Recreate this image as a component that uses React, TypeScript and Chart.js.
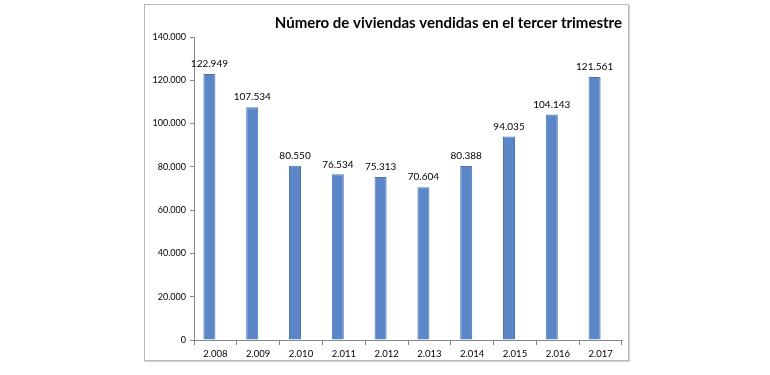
import React, { useEffect, useRef } from "react";
import { Chart, registerables } from "chart.js";

Chart.register(...registerables);

const categories = ["2.008", "2.009", "2.010", "2.011", "2.012", "2.013", "2.014", "2.015", "2.016", "2.017"];
const values = [122949, 107534, 80550, 76534, 75313, 70604, 80388, 94035, 104143, 121561];
const emptySeries = [null, null, null, null, null, null, null, null, null, null];
const yTicks = [0, 20000, 40000, 60000, 80000, 100000, 120000, 140000];
const titleText = "Número de viviendas vendidas en el tercer trimestre";

const FONT = "Lato, 'Liberation Sans', sans-serif";

const fmt = (v: number) => {
  const s = Math.round(v).toString();
  return s.replace(/\B(?=(\d{3})+(?!\d))/g, ".");
};

const labelPlugin = {
  id: "barLabels",
  afterDatasetsDraw(chart: any) {
    const ctx = chart.ctx;
    const meta = chart.getDatasetMeta(0);
    ctx.save();
    ctx.font = "10px " + FONT;
    ctx.fillStyle = "#000";
    ctx.textAlign = "center";
    ctx.textBaseline = "bottom";
    meta.data.forEach((bar: any, i: number) => {
      ctx.fillText(fmt(values[i]), bar.x, bar.y - 5);
    });
    ctx.restore();
  },
};

export default function App() {
  const ref = useRef<HTMLCanvasElement>(null);
  useEffect(() => {
    if (!ref.current) return;
    const chart = new Chart(ref.current, {
      type: "bar",
      data: {
        labels: categories,
        datasets: [
          {
            data: values,
            backgroundColor: "#5b87c8",
            borderColor: "#4a74b4",
            borderWidth: 1,
            categoryPercentage: 0.56,
            barPercentage: 1,
          },
          {
            data: emptySeries as any,
            backgroundColor: "transparent",
            categoryPercentage: 0.56,
            barPercentage: 1,
          },
        ],
      },
      options: {
        animation: false,
        responsive: false,
        maintainAspectRatio: false,
        layout: { padding: { left: 0, right: 6, top: 0, bottom: 0 } },
        plugins: {
          legend: { display: false },
          tooltip: { enabled: false },
          title: {
            display: true,
            text: titleText,
            align: "end",
            color: "#000",
            font: { family: FONT, size: 15, weight: "bold" },
            padding: { top: 9, bottom: 5 },
          },
        },
        scales: {
          x: {
            grid: { display: true, drawOnChartArea: false, drawTicks: true, tickLength: 5, color: "#888", offset: true },
            border: { display: true, color: "#888" },
            ticks: { color: "#000", font: { family: FONT, size: 9.5 }, padding: 3, maxRotation: 0 },
            afterFit: (s: any) => { s.height = 20; },
          },
          y: {
            min: 0,
            max: 140000,
            afterBuildTicks: (s: any) => { s.ticks = yTicks.map((v) => ({ value: v })); },
            grid: { display: true, drawOnChartArea: false, drawTicks: true, tickLength: 4, color: "#888" },
            border: { display: true, color: "#888" },
            ticks: { color: "#000", font: { family: FONT, size: 9 }, padding: 4, callback: (v: any) => fmt(Number(v)) },
            afterFit: (s: any) => { s.width = 49; },
          },
        },
      },
      plugins: [labelPlugin],
    });
    return () => chart.destroy();
  }, []);
  return (
    <div
      style={{
        position: "absolute",
        left: 144,
        top: 4,
        width: 485,
        height: 357,
        boxSizing: "border-box",
        border: "1px solid #b8b8b8",
        boxShadow: "1px 1px 1px #d8d8d8",
        background: "#fff",
      }}
    >
      <canvas ref={ref} width={483} height={355} style={{ display: "block" }} />
    </div>
  );
}
